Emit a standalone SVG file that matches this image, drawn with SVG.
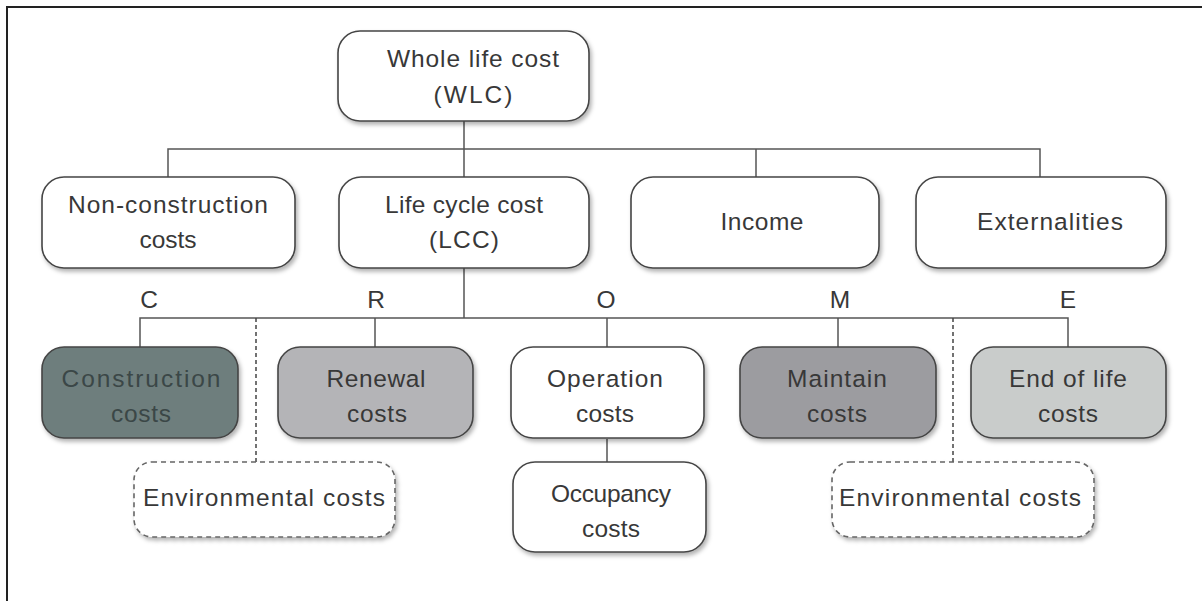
<svg xmlns="http://www.w3.org/2000/svg" width="1202" height="601" viewBox="0 0 1202 601">
<defs>
<filter id="sh" x="-10%" y="-10%" width="125%" height="135%">
<feDropShadow dx="2" dy="3" stdDeviation="2" flood-color="#000" flood-opacity="0.3"/>
</filter>
<style>
.box{stroke:#454545;stroke-width:1.6;fill:#fff;filter:url(#sh)}
.env{stroke:#666;stroke-width:1.6;fill:#fff;stroke-dasharray:5 4;filter:url(#sh)}
.t{font-family:"Liberation Sans",Arial,sans-serif;font-size:24.5px;fill:#383838;text-anchor:middle}
.ln{stroke:#555;stroke-width:1.5;fill:none}
.dl{stroke:#444;stroke-width:1.5;fill:none;stroke-dasharray:4 3}
</style>
</defs>
<rect width="1202" height="601" fill="#fff"/>
<path d="M7,601 V7 H1202" fill="none" stroke="#222" stroke-width="2"/>

<g id="connectors">
<path class="ln" d="M464,121 V177 M168,177 V149 H1040 V177 M756,149 V177"/>
<path class="ln" d="M464,268 V318 M140,347 V318 H1068 V347 M375,318 V347 M607,318 V347 M838,318 V347 M607,439 V462"/>
<path class="dl" d="M256,318 V462 M953,318 V462"/>
<text class="t" x="149" y="308">C</text>
<text class="t" x="376" y="308">R</text>
<text class="t" x="606" y="308">O</text>
<text class="t" x="840" y="308">M</text>
<text class="t" x="1068" y="308">E</text>
</g>

<g id="wlc">
<rect class="box" x="338" y="31" width="251" height="90" rx="22"/>
<text class="t" x="473" y="67" textLength="172">Whole life cost</text>
<text class="t" x="473" y="103" textLength="79">(WLC)</text>
</g>
<g id="nonconstruction">
<rect class="box" x="42" y="177" width="253" height="91" rx="22"/>
<text class="t" x="168" y="213" textLength="200">Non-construction</text>
<text class="t" x="168" y="248" textLength="57">costs</text>
</g>
<g id="lcc">
<rect class="box" x="339" y="177" width="250" height="91" rx="22"/>
<text class="t" x="464" y="213" textLength="158">Life cycle cost</text>
<text class="t" x="464" y="248" textLength="70">(LCC)</text>
</g>
<g id="income">
<rect class="box" x="631" y="177" width="248" height="91" rx="22"/>
<text class="t" x="762" y="230" textLength="83">Income</text>
</g>
<g id="externalities">
<rect class="box" x="916" y="177" width="250" height="91" rx="22"/>
<text class="t" x="1050" y="230" textLength="146">Externalities</text>
</g>

<g id="construction">
<rect class="box" x="42" y="347" width="196" height="91" rx="22" style="fill:#6e7e7d"/>
<text class="t" x="141" y="387" textLength="159" style="fill:#3b4747">Construction</text>
<text class="t" x="141" y="422" textLength="60" style="fill:#3b4747">costs</text>
</g>
<g id="renewal">
<rect class="box" x="278" y="347" width="195" height="91" rx="22" style="fill:#b4b4b7"/>
<text class="t" x="376" y="387" textLength="99">Renewal</text>
<text class="t" x="377" y="422" textLength="60">costs</text>
</g>
<g id="operation">
<rect class="box" x="511" y="347" width="193" height="91" rx="22"/>
<text class="t" x="605" y="387" textLength="116">Operation</text>
<text class="t" x="605" y="422" textLength="58">costs</text>
</g>
<g id="maintain">
<rect class="box" x="740" y="347" width="196" height="91" rx="22" style="fill:#9c9ca0"/>
<text class="t" x="837" y="387" textLength="100">Maintain</text>
<text class="t" x="837" y="422" textLength="60">costs</text>
</g>
<g id="endoflife">
<rect class="box" x="971" y="347" width="195" height="91" rx="22" style="fill:#c9cccb"/>
<text class="t" x="1068" y="387" textLength="118">End of life</text>
<text class="t" x="1068" y="422" textLength="60">costs</text>
</g>
<g id="occupancy">
<rect class="box" x="513" y="462" width="193" height="90" rx="22"/>
<text class="t" x="611" y="502" textLength="120">Occupancy</text>
<text class="t" x="611" y="537" textLength="58">costs</text>
</g>
<g id="env-left">
<rect class="env" x="134" y="462" width="261" height="75" rx="18"/>
<text class="t" x="264" y="506" textLength="242">Environmental costs</text>
</g>
<g id="env-right">
<rect class="env" x="832" y="462" width="262" height="75" rx="18"/>
<text class="t" x="960" y="506" textLength="242">Environmental costs</text>
</g>
</svg>
